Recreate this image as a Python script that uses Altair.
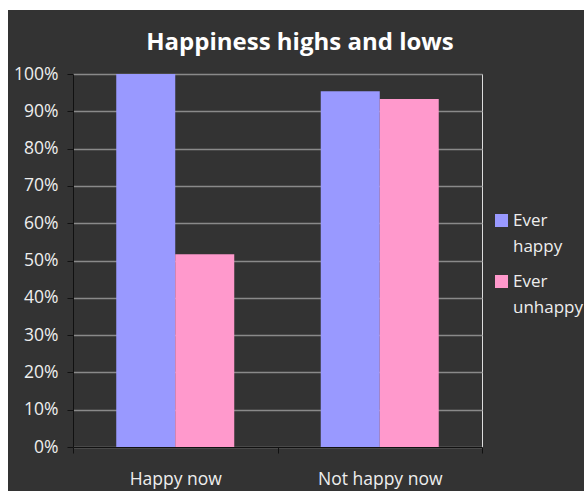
import altair as alt
import pandas as pd

categories = ["Happy now", "Not happy now"]
series = ["Ever happy", "Ever unhappy"]
ever_happy = [1.00, 0.954]
ever_unhappy = [0.517, 0.933]
colors = ["#9999FF", "#FF99CC"]
y_ticks = [0, 0.1, 0.2, 0.3, 0.4, 0.5, 0.6, 0.7, 0.8, 0.9, 1.0]
title_text = "Happiness highs and lows"

rows = []
for i, c in enumerate(categories):
    rows.append({"category": c, "series": series[0], "value": ever_happy[i]})
    rows.append({"category": c, "series": series[1], "value": ever_unhappy[i]})
df = pd.DataFrame(rows)

FONT = "Open Sans"

bars = alt.Chart(df).mark_bar(size=59).encode(
    x=alt.X("category:N", sort=categories, title=None,
            scale=alt.Scale(paddingInner=0, paddingOuter=0),
            axis=alt.Axis(labelAngle=0, labelColor="#eeeeee", labelFont=FONT,
                          labelFontSize=17.5, labelPadding=17, domainColor="#111111",
                          tickColor="#111111", tickBand="extent", tickSize=6,
                          grid=False)),
    xOffset=alt.XOffset("series:N", sort=series,
                        scale=alt.Scale(paddingInner=0, paddingOuter=0.733)),
    y=alt.Y("value:Q", title=None,
            scale=alt.Scale(domain=[0, 1], nice=False),
            axis=alt.Axis(format=".0%", values=y_ticks, labelColor="#eeeeee",
                          labelFont=FONT, labelFontSize=17.5, labelPadding=9,
                          domainColor="#111111", tickColor="#111111", tickSize=6,
                          gridColor="#8a8a8a", gridWidth=1.5)),
    color=alt.Color("series:N", sort=series,
                    scale=alt.Scale(domain=series, range=colors),
                    legend=alt.Legend(title=None, orient="none", legendX=420, legendY=138,
                                      symbolType="square", symbolSize=169,
                                      symbolStrokeWidth=0, labelColor="#eeeeee",
                                      labelFont=FONT, labelFontSize=17,
                                      labelExpr="split(datum.label, ' ')",
                                      rowPadding=17, labelOffset=3, labelLimit=200)),
)

blank = alt.Data(values=[{"t": title_text}])
strip_top = alt.Chart(blank).mark_rect(color="white").encode(
    x=alt.value(-80), x2=alt.value(520), y=alt.value(-80), y2=alt.value(-64))
strip_left = alt.Chart(blank).mark_rect(color="white").encode(
    x=alt.value(-80), x2=alt.value(-65), y=alt.value(-80), y2=alt.value(430))
title = alt.Chart(blank).mark_text(font=FONT, fontSize=24, fontWeight="bold",
                                   color="white", align="center",
                                   baseline="alphabetic").encode(
    text="t:N", x=alt.value(227), y=alt.value(-24))

chart = alt.layer(strip_top, strip_left, title, bars).properties(
    width=409, height=373,
    padding={"left": 73, "top": 74, "right": 102, "bottom": 44},
    autosize=alt.AutoSizeParams(type="none"),
    background="#333333",
).configure_view(stroke="#8a8a8a", strokeWidth=1.5).configure(
    style={"guide-label": {"lineHeight": 26}})

chart.save("out.html", embed_options={"renderer": "svg", "actions": False})
